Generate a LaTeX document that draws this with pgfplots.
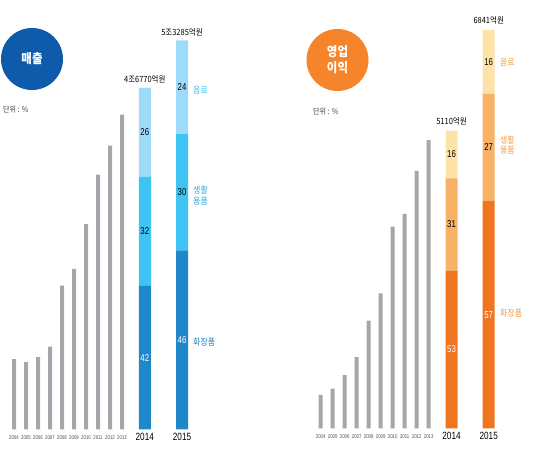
\documentclass[border=0pt]{standalone}
\usepackage{fontspec}
\setmainfont{Noto Sans CJK KR}
\newfontfamily\kr[FakeStretch=0.88]{Noto Sans CJK KR}
\newfontfamily\cond[FakeStretch=0.78]{Liberation Sans}
\usepackage{pgfplots}
\pgfplotsset{compat=1.18}
\definecolor{grayB}{HTML}{A6A6AA}
\definecolor{bD}{HTML}{1E88CB}
\definecolor{bM}{HTML}{3EC4F2}
\definecolor{bL}{HTML}{9EDBF8}
\definecolor{circB}{HTML}{0D5BAA}
\definecolor{oD}{HTML}{F07521}
\definecolor{oM}{HTML}{F8B165}
\definecolor{oL}{HTML}{FEE3A8}
\definecolor{circO}{HTML}{F5842B}
\definecolor{labB1}{HTML}{3CC3F0}
\definecolor{labB2}{HTML}{2BA8E0}
\definecolor{labB3}{HTML}{1E80C4}
\definecolor{labO}{HTML}{F39A4A}
\newcommand\yrs{\cond\fontsize{5.5}{6}\selectfont\color{black!70}}
\newcommand\yrb{\cond\fontsize{10.5}{11}\selectfont}
\pgfplotsset{
  panel/.style={scale only axis, width=192pt, xmin=-1, xmax=15, ymin=0,
    clip=false, enlargelimits=false},
  grayaxis/.style={panel, axis line style={draw=none}, ytick=\empty,
    major tick length=0pt,
    xtick={0,1,2,3,4,5,6,7,8,9,10.9,14},
    xticklabels={{\yrs 2004},{\yrs 2005},{\yrs 2006},{\yrs 2007},{\yrs 2008},{\yrs 2009},{\yrs 2010},{\yrs 2011},{\yrs 2012},{\yrs 2013},{\yrb 2014},{\yrb 2015}},
    xticklabel style={anchor=center, yshift=-8pt},
    ybar, bar width=4pt},
  stackaxis/.style={panel, hide axis, ybar stacked, bar width=12pt,
    point meta=explicit symbolic,
    nodes near coords,
    nodes near coords style={anchor=center, font=\cond\fontsize{10}{11}\selectfont, text=black}},
}
\begin{document}
\begin{tikzpicture}[x=1pt,y=1pt]
% ---------- left panel decorations
\fill[circB] (32,389) circle (31);
\node[text=white, font=\kr\bfseries\fontsize{13}{15}\selectfont] at (32,389) {매출};
\node[anchor=west, font=\kr\fontsize{8}{9}\selectfont, text=black!75, inner sep=0pt] at (3,338) {단위 : \%};
% ---------- right panel decorations
\fill[circO] (337.5,388) circle (31);
\node[text=white, font=\kr\bfseries\fontsize{13}{16}\selectfont, align=center] at (337.5,388) {영업\\이익};
\node[anchor=west, font=\kr\fontsize{8}{9}\selectfont, text=black!75, inner sep=0pt] at (313,336) {단위 : \%};

% ---------- left: gray bars (revenue, trillion won)
\begin{axis}[grayaxis, at={(2pt,18.7pt)}, anchor=south west, height=438pt, ymax=6]
\addplot[fill=grayB, draw=none] coordinates {
(0,0.963) (1,0.922) (2,0.990) (3,1.131) (4,1.967) (5,2.196) (6,2.812) (7,3.488) (8,3.885) (9,4.310)};
\end{axis}
% ---------- left: stacked bars
\begin{axis}[stackaxis, at={(2pt,18.7pt)}, anchor=south west, height=438pt, ymax=6]
\addplot[fill=bD, draw=none, nodes near coords style={text=white}] coordinates {(10.9,1.964) [42] (14,2.451) [46]};
\addplot[fill=bM, draw=none] coordinates {(10.9,1.497) [32] (14,1.599) [30]};
\addplot[fill=bL, draw=none] coordinates {(10.9,1.216) [26] (14,1.279) [24]};
\node[anchor=south, font=\kr\fontsize{8.5}{9}\selectfont, inner sep=1pt] at (axis cs:10.9,4.72) {4조6770억원};
\node[anchor=south, font=\kr\fontsize{8.5}{9}\selectfont, inner sep=1pt] at (axis cs:14,5.37) {5조3285억원};
\node[anchor=west, text=labB1, font=\kr\fontsize{9}{10}\selectfont, inner sep=0pt] at (axis cs:14.92,4.648) {음료};
\node[anchor=west, text=labB2, font=\kr\fontsize{9}{10.5}\selectfont, inner sep=0pt, align=left] at (axis cs:14.92,3.203) {생활\\용품};
\node[anchor=west, text=labB3, font=\kr\fontsize{9}{10}\selectfont, inner sep=0pt] at (axis cs:14.92,1.196) {화장품};
\end{axis}

% ---------- right: gray bars (operating profit, 100 million won)
\begin{axis}[grayaxis, at={(308.7pt,19.7pt)}, anchor=south west, height=436.8pt, ymax=7500]
\addplot[fill=grayB, draw=none] coordinates {
(0,572) (1,680) (2,915) (3,1224) (4,1848) (5,2318) (6,3462) (7,3680) (8,4418) (9,4950)};
\end{axis}
% ---------- right: stacked bars
\begin{axis}[stackaxis, at={(308.7pt,19.7pt)}, anchor=south west, height=436.8pt, ymax=7500]
\addplot[fill=oD, draw=none, nodes near coords style={text=white}] coordinates {(10.9,2708) [53] (14,3899) [57]};
\addplot[fill=oM, draw=none] coordinates {(10.9,1584) [31] (14,1847) [27]};
\addplot[fill=oL, draw=none] coordinates {(10.9,818) [16] (14,1095) [16]};
\node[anchor=south, font=\kr\fontsize{8.5}{9}\selectfont, inner sep=1pt] at (axis cs:10.9,5180) {5110억원};
\node[anchor=south, font=\kr\fontsize{8.5}{9}\selectfont, inner sep=1pt] at (axis cs:14,6910) {6841억원};
\node[anchor=west, text=labO, font=\kr\fontsize{9}{10}\selectfont, inner sep=0pt] at (axis cs:14.94,6290) {음료};
\node[anchor=west, text=labO, font=\kr\fontsize{9}{10.5}\selectfont, inner sep=0pt, align=left] at (axis cs:14.94,4864) {생활\\용품};
\node[anchor=west, text=labO, font=\kr\fontsize{9}{10}\selectfont, inner sep=0pt] at (axis cs:14.94,1980) {화장품};
\end{axis}
\pgfresetboundingbox
\path (0,0) rectangle (540,448);
\end{tikzpicture}
\end{document}
